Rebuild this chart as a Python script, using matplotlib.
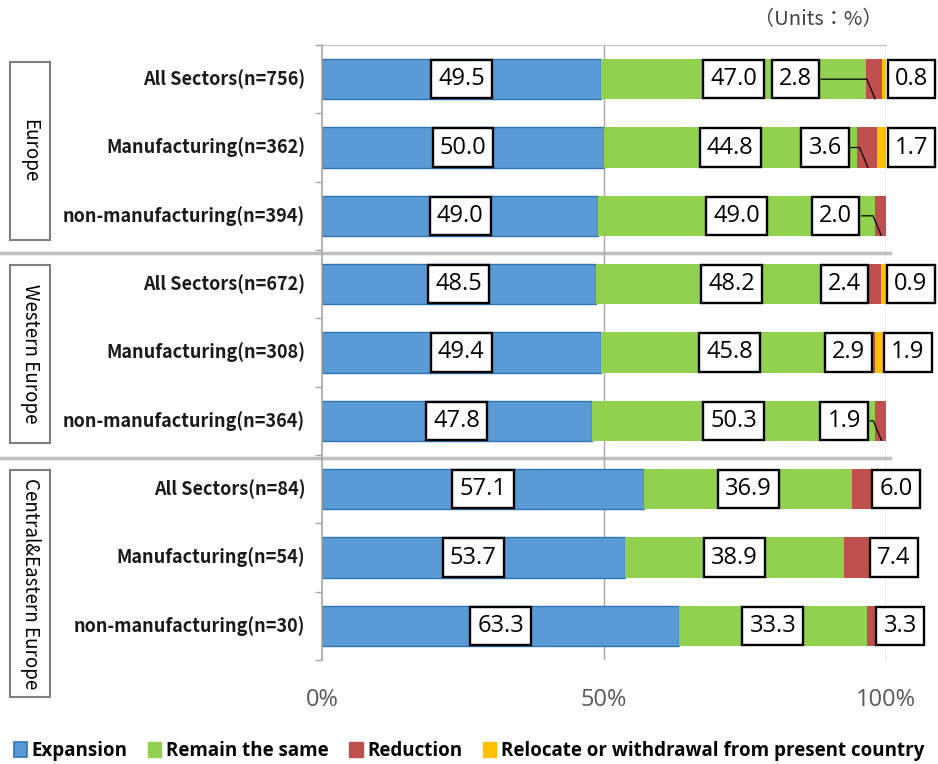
import matplotlib
matplotlib.use("Agg")
import matplotlib.pyplot as plt
from matplotlib.patches import Rectangle, Patch
from matplotlib.lines import Line2D
from matplotlib.transforms import blended_transform_factory

plt.rcParams['font.family'] = ['Noto Sans CJK JP', 'DejaVu Sans']

# Survey responses (%), one row per segment
categories = [
    "All Sectors(n=756)", "Manufacturing(n=362)", "non-manufacturing(n=394)",
    "All Sectors(n=672)", "Manufacturing(n=308)", "non-manufacturing(n=364)",
    "All Sectors(n=84)", "Manufacturing(n=54)", "non-manufacturing(n=30)",
]
groups = ["Europe", "Western Europe", "Central&Eastern Europe"]
expansion = [49.5, 50.0, 49.0, 48.5, 49.4, 47.8, 57.1, 53.7, 63.3]
remain = [47.0, 44.8, 49.0, 48.2, 45.8, 50.3, 36.9, 38.9, 33.3]
reduction = [2.8, 3.6, 2.0, 2.4, 2.9, 1.9, 6.0, 7.4, 3.3]
relocate = [0.8, 1.7, 0.0, 0.9, 1.9, 0.0, 0.0, 0.0, 0.0]
series_names = ["Expansion", "Remain the same", "Reduction",
                "Relocate or withdrawal from present country"]
xtick_labels = ["0%", "50%", "100%"]

# Label placement (x in % units) for the small segments
reduction_label_x = [83.9, 89.2, 91.1, 92.6, 93.3, 92.6, 101.8, 101.4, 102.5]
reduction_leader = [True, True, True, False, False, True, False, False, False]
relocate_label_x = [104.5, 104.5, 0, 104.4, 103.9, 0, 0, 0, 0]

colors = ["#5B9BD5", "#92D050", "#C0504D", "#FFC000"]
edge_blue = "#2E75B6"

fig = plt.figure(figsize=(9.38, 7.64), dpi=100)
W, H = 938, 764
ax = fig.add_axes([322 / W, 1 - 660 / H, 564 / W, 615 / H])

ypos = list(range(len(categories)))
bh = 0.59
left = [0.0] * len(categories)
series = [expansion, remain, reduction, relocate]
for i, vals in enumerate(series):
    ax.barh(ypos, vals, left=left, height=bh, color=colors[i],
            edgecolor=edge_blue if i == 0 else colors[i],
            linewidth=1.0 if i == 0 else 0, zorder=2)
    left = [l + v for l, v in zip(left, vals)]

ax.set_xlim(0, 100)
ax.set_ylim(len(categories) - 0.5, -0.5)

box = dict(boxstyle="square,pad=0.3", fc="white", ec="black", lw=1.7)
lab_kw = dict(ha="center", va="center", fontsize=17, color="black",
              family=["Open Sans", "DejaVu Sans"], bbox=box, zorder=5)

for r in ypos:
    e, m, d, o = expansion[r], remain[r], reduction[r], relocate[r]
    ax.text(e / 2, r, f"{e:.1f}", **lab_kw)
    ax.text(e + m / 2, r, f"{m:.1f}", **lab_kw)
    ax.text(reduction_label_x[r], r, f"{d:.1f}", clip_on=False, **lab_kw)
    if o > 0:
        ax.text(relocate_label_x[r], r, f"{o:.1f}", clip_on=False, **lab_kw)
    if reduction_leader[r]:
        red_mid = e + m + d / 2
        x0 = reduction_label_x[r] + 4.5
        ax.plot([x0, red_mid - 1.3, red_mid + 0.2], [r, r, r + bh / 2],
                color="black", lw=0.9, zorder=4, solid_capstyle="butt")

# gridlines at 50% and 100%
for gx in (50, 100):
    ax.axvline(gx, color="#A6A6A6", lw=1.0, zorder=1)

for side in ("right", "bottom"):
    ax.spines[side].set_visible(False)
ax.spines["top"].set_color("#BFBFBF")
ax.spines["left"].set_color("#A6A6A6")
ax.spines["left"].set_linewidth(1.2)

ax.set_xticks([0, 50, 100])
ax.set_xticklabels(xtick_labels, fontsize=17, color="#595959",
                   family=["Open Sans", "DejaVu Sans"])
ax.tick_params(axis="x", length=0, pad=20)

ax.set_yticks([y + 0.5 for y in range(-1, len(categories))], minor=False)
ax.set_yticklabels([])
ax.tick_params(axis="y", length=5, color="#A6A6A6", width=1.0)
for r, name in enumerate(categories):
    ax.text(-3.0, r, name, ha="right", va="center", fontsize=13,
            fontweight="bold", color="#1a1a1a", clip_on=False)

# group separators
tr = blended_transform_factory(fig.transFigure, ax.transData)
for yb in (2.55, 5.55):
    ax.add_line(Line2D([0, 890 / W], [yb, yb], transform=tr, color="#BFBFBF",
                       lw=2.5, clip_on=False, zorder=0))

# group name boxes
group_boxes = [(62, 240), (265, 443), (470, 697)]
for name, (ytop, ybot) in zip(groups, group_boxes):
    fig.add_artist(Rectangle((10 / W, 1 - ybot / H), 40 / W, (ybot - ytop) / H,
                             transform=fig.transFigure, fc="white",
                             ec="#7F7F7F", lw=1.5))
    fig.text(30 / W, 1 - (ytop + ybot) / 2 / H, name, rotation=-90,
             ha="center", va="center", fontsize=13.5, color="black")

fig.text(882 / W, 1 - 20 / H, "（Units：%）", ha="right", va="center",
         fontsize=14.5, color="#404040")

handles = [Patch(fc=colors[0], ec=edge_blue, lw=1.2)] + \
          [Patch(fc=c, ec=c) for c in colors[1:]]
fig.legend(handles, series_names, loc="center", bbox_to_anchor=(0.5, 1 - 751 / H),
           ncol=4, frameon=False, handlelength=0.7, handleheight=0.9,
           handletextpad=0.25, columnspacing=1.1,
           prop={"size": 13.5, "weight": "bold", "family": ["Open Sans", "DejaVu Sans"]})

fig.savefig("out.png", dpi=100)
